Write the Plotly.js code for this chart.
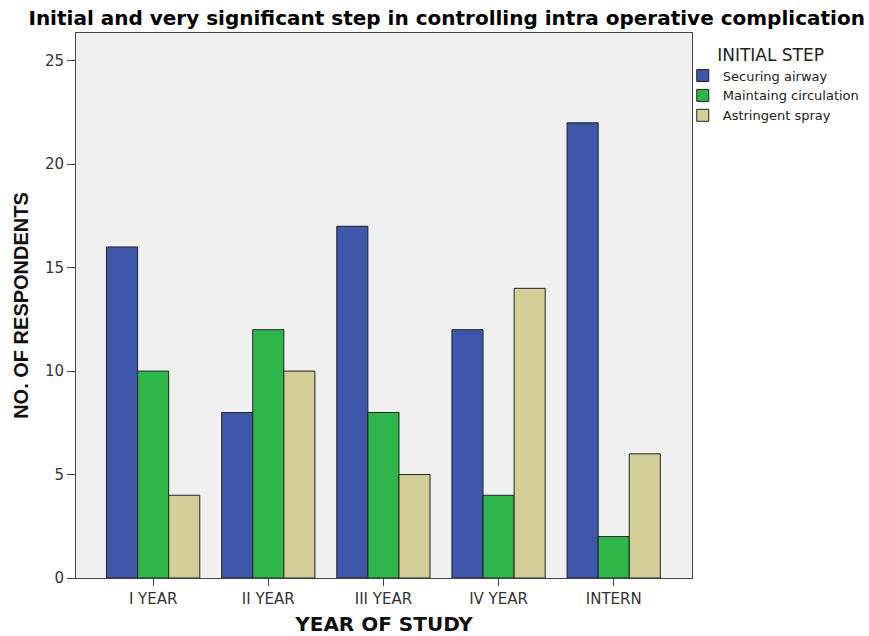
<!DOCTYPE html>
<html>
<head>
<meta charset="utf-8">
<script src="https://cdn.plot.ly/plotly-3.0.1.min.js"></script>
<style>body{margin:0;padding:0;background:#fff;}#chart{width:869px;height:636px;}</style>
</head>
<body>
<div id="chart"></div>
<script>
const categories = ["I YEAR", "II YEAR", "III YEAR", "IV YEAR", "INTERN"];
const seriesNames = ["Securing airway", "Maintaing circulation", "Astringent spray"];
const securingAirway = [16, 8, 17, 12, 22];
const maintaingCirculation = [10, 12, 8, 4, 2];
const astringentSpray = [4, 10, 5, 14, 6];
const yTicks = [0, 5, 10, 15, 20, 25];

const colors = ["#3e57ab", "#2fb64b", "#d3ce98"];
const values = [securingAirway, maintaingCirculation, astringentSpray];

const traces = values.map((v, i) => ({
  type: "bar",
  name: seriesNames[i],
  x: categories,
  y: v,
  marker: {color: colors[i], line: {color: "#222", width: 1}},
  hoverinfo: "x+y+name"
}));

const wide = "DejaVu Sans, Verdana, sans-serif";
const narrow = "Liberation Sans, Arial, sans-serif";

const layout = {
  width: 869, height: 636,
  margin: {l: 76, r: 177, t: 33, b: 58, autoexpand: false},
  paper_bgcolor: "#ffffff",
  plot_bgcolor: "#f0f0f0",
  font: {family: wide, color: "#222"},
  title: {
    text: "<b>Initial and very significant step in controlling intra operative complication</b>",
    font: {size: 20, color: "#000", family: wide},
    x: 0.514, xanchor: "center", y: 0.972, yanchor: "middle"
  },
  barmode: "group",
  bargap: 0.19,
  bargroupgap: 0,
  xaxis: {
    range: [-0.67, 4.68],
    showline: true, linecolor: "#444", linewidth: 1, mirror: true,
    ticks: "outside", ticklen: 7, tickcolor: "#444",
    tickfont: {size: 15, color: "#333", family: wide},
    showgrid: false, zeroline: false,
    title: {text: "<b>YEAR OF STUDY</b>", font: {size: 20, color: "#111", family: wide}, standoff: 18}
  },
  yaxis: {
    range: [0, 26.34],
    tickvals: yTicks,
    showline: true, linecolor: "#444", linewidth: 1, mirror: true,
    ticks: "outside", ticklen: 8, tickcolor: "#444",
    tickfont: {size: 15, color: "#333", family: wide},
    showgrid: false, zeroline: false,
    title: {text: "<b>NO. OF RESPONDENTS</b>", font: {size: 20, color: "#111", family: narrow}, standoff: 10}
  },
  legend: {
    x: 0.985, xanchor: "left", y: 0.99, yanchor: "top",
    bgcolor: "rgba(0,0,0,0)",
    font: {size: 13, color: "#222", family: wide},
    title: {text: "      INITIAL STEP", font: {size: 17, color: "#222", family: wide}},
    tracegroupgap: 0, itemwidth: 30
  },
  showlegend: true
};

Plotly.newPlot("chart", traces, layout, {displayModeBar: false, staticPlot: true});
</script>
</body>
</html>
